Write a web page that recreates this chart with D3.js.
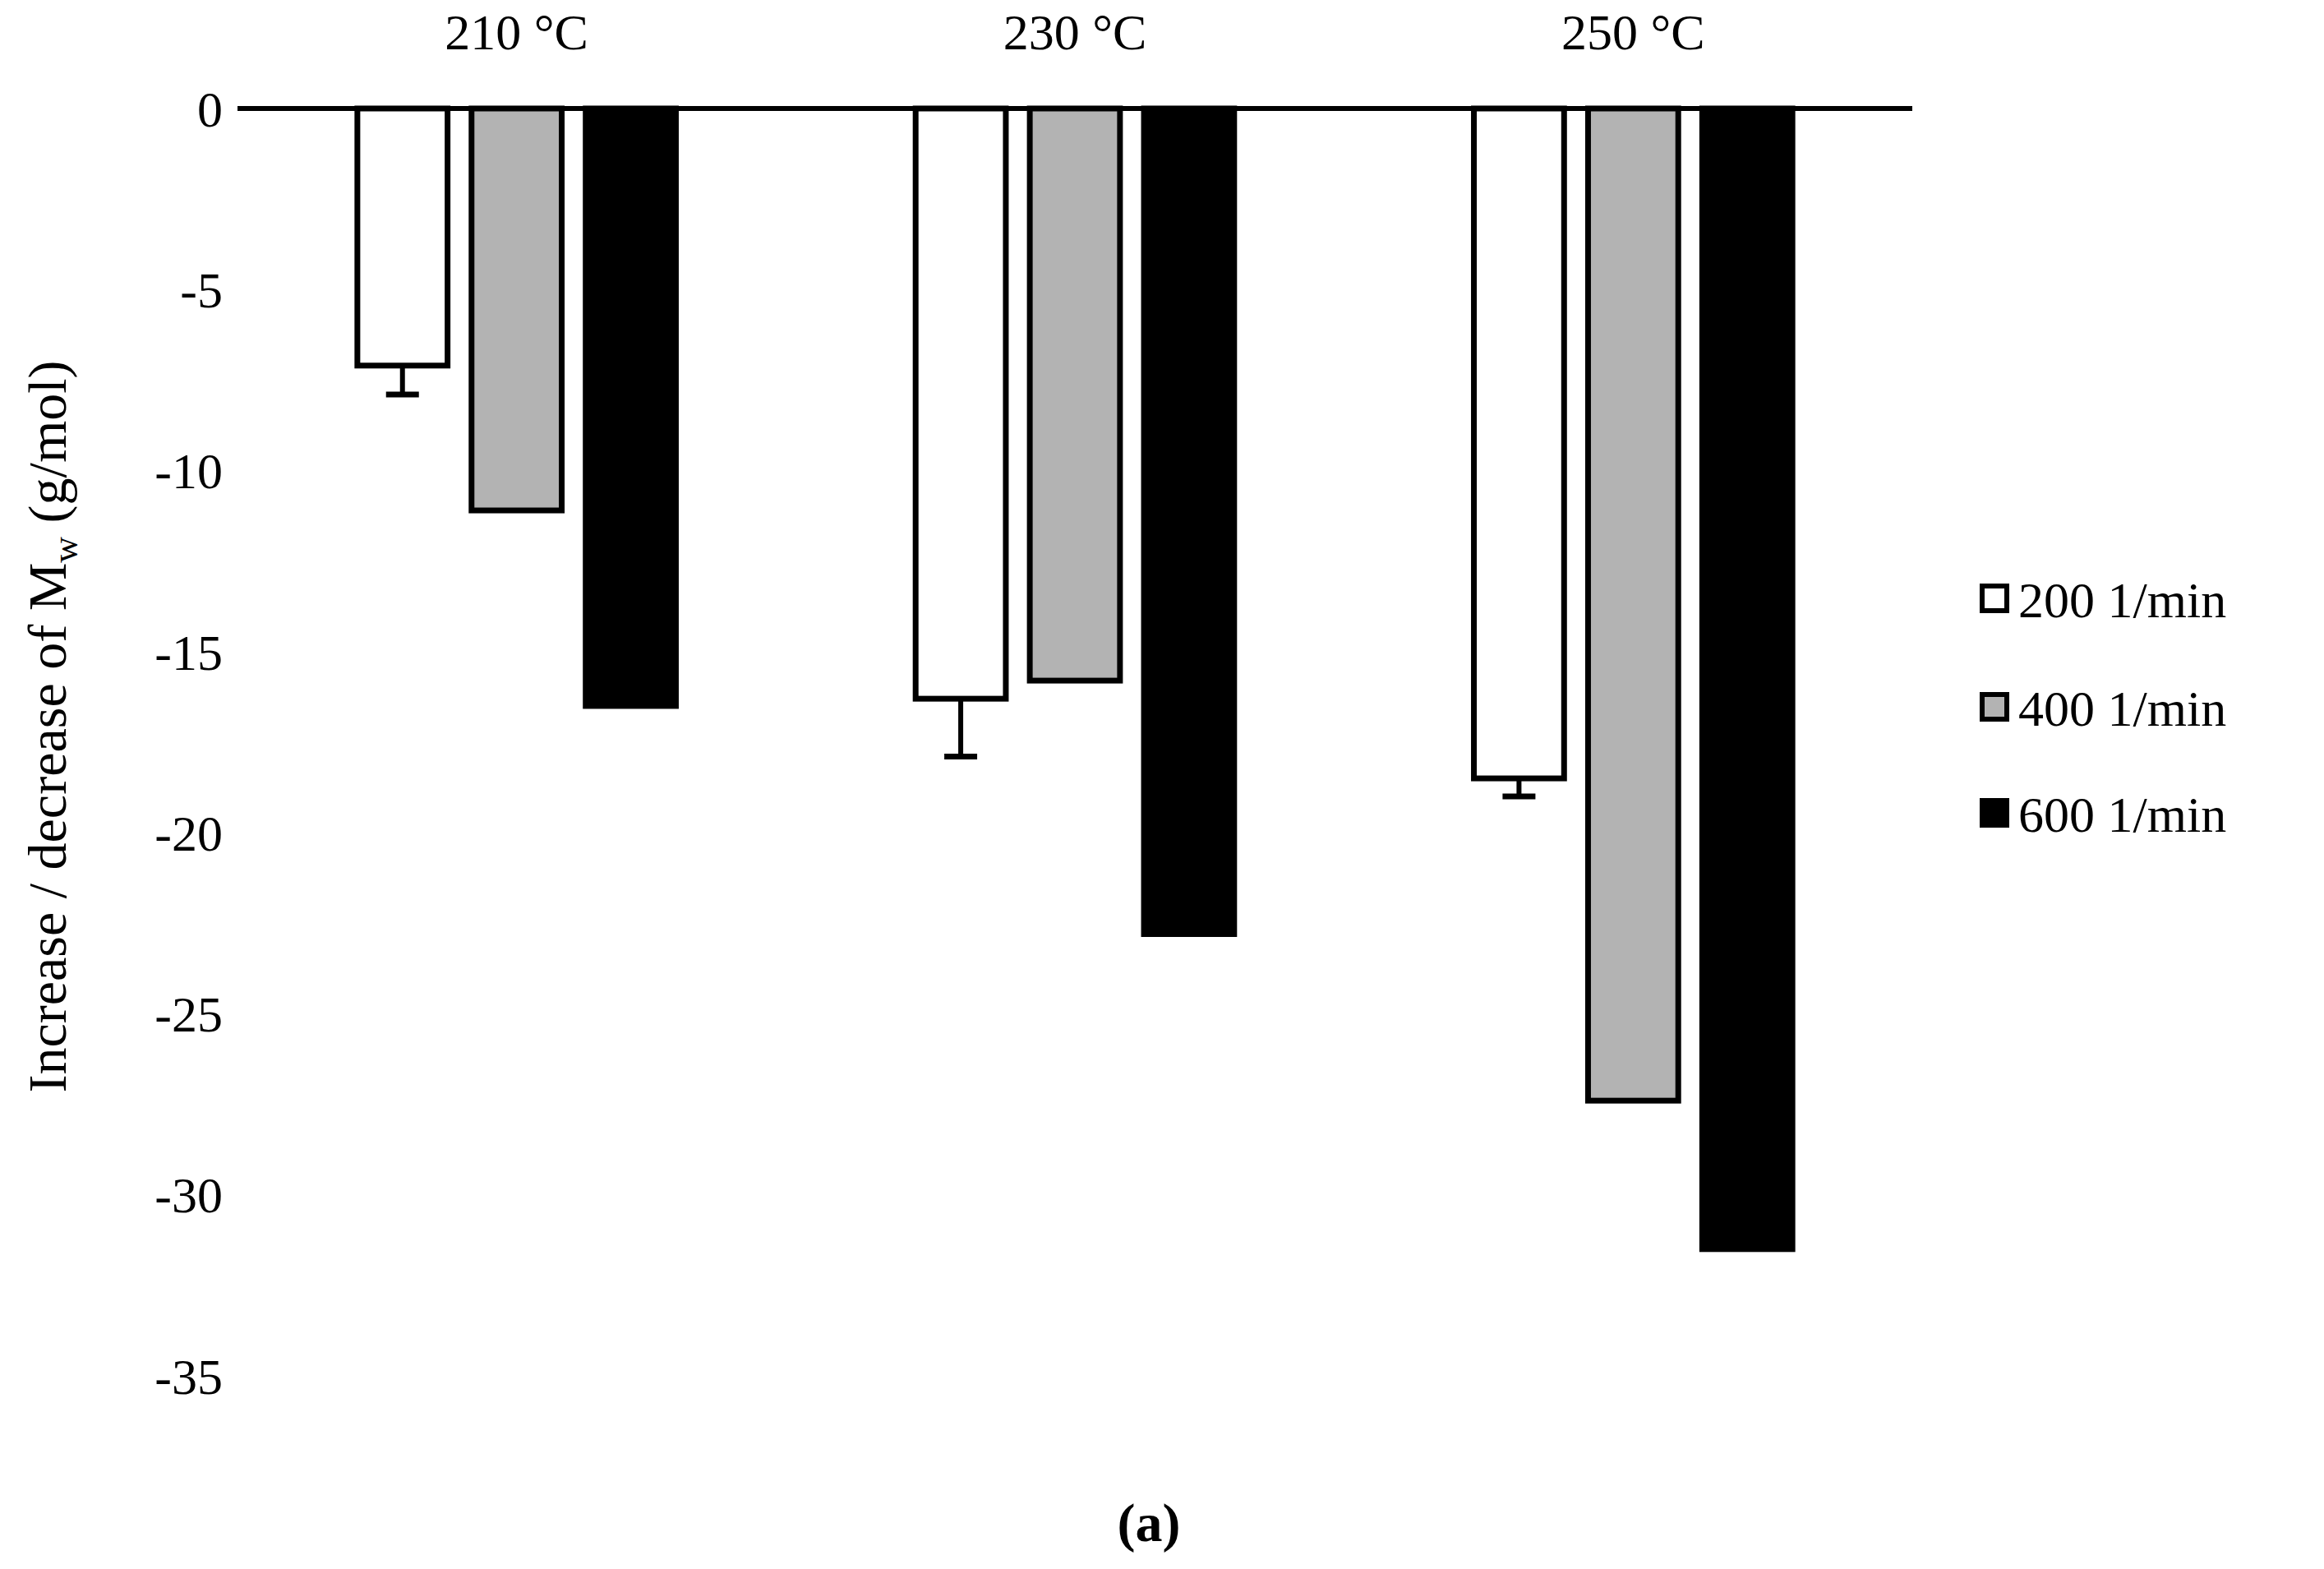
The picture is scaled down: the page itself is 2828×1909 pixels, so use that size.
<!DOCTYPE html>
<html><head><meta charset="utf-8">
<script src="https://cdn.jsdelivr.net/npm/d3@7"></script>
<style>body{margin:0;background:#fff}text{font-family:"Liberation Serif","Times New Roman",serif}</style>
</head><body><svg id="c" width="2828" height="1909"></svg>
<script>
const categories=["210 °C","230 °C","250 °C"];
const seriesNames=["200 1/min","400 1/min","600 1/min"];
const v200=[-7.1,-16.3,-18.5];
const v400=[-11.1,-15.8,-27.4];
const v600=[-16.5,-22.8,-31.5];
const err200=[0.8,1.6,0.5];
const err400=[0,0,0];
const err600=[0,0,0];
const yTicks=[0,-5,-10,-15,-20,-25,-30,-35];
const fills=["#ffffff","#b3b3b3","#000000"];
const vals=[v200,v400,v600], errs=[err200,err400,err600];

const svg=d3.select("#c");
const L=289,R=2327,T=132,B=1674;
const x=d3.scaleBand().domain(categories).range([L,R]);
const x1=d3.scaleBand().domain(seriesNames).range([0,x.bandwidth()]).paddingInner(0.21).paddingOuter(1.05);
const y=d3.scaleLinear().domain([0,-35]).range([T,B]);
const fs=62;
yTicks.forEach(t=>svg.append("text").attr("x",271).attr("y",y(t)).attr("dy","0.35em").attr("text-anchor","end").attr("font-size",fs).text(t));
categories.forEach((c,i)=>{
  svg.append("text").attr("x",x(c)+x.bandwidth()/2).attr("y",60).attr("text-anchor","middle").attr("font-size",fs).text(c);
  seriesNames.forEach((s,j)=>{
    const v=vals[j][i],bx=x(c)+x1(s),bw=x1.bandwidth();
    svg.append("rect").attr("x",bx).attr("y",y(0)).attr("width",bw).attr("height",y(v)-y(0))
      .attr("fill",fills[j]).attr("stroke","#000").attr("stroke-width",7);
    const e=errs[j][i];
    if(e>0){const cx=bx+bw/2;
      svg.append("line").attr("x1",cx).attr("x2",cx).attr("y1",y(v)).attr("y2",y(v-e)).attr("stroke","#000").attr("stroke-width",6);
      svg.append("line").attr("x1",cx-20).attr("x2",cx+20).attr("y1",y(v-e)).attr("y2",y(v-e)).attr("stroke","#000").attr("stroke-width",7);}
  });
});
svg.append("line").attr("x1",L).attr("x2",R).attr("y1",y(0)).attr("y2",y(0)).attr("stroke","#000").attr("stroke-width",6);
const lab=svg.append("text").attr("transform","translate(80,884) rotate(-90)").attr("text-anchor","middle").attr("font-size",66);
lab.append("tspan").text("Increase / decrease of M");
lab.append("tspan").attr("font-size",44).attr("dy",14).text("w");
lab.append("tspan").attr("dy",-14).text(" (g/mol)");
seriesNames.forEach((s,j)=>{
  const yy=[729,861,990][j];
  svg.append("rect").attr("x",2412).attr("y",yy-16).attr("width",30).attr("height",30).attr("fill",fills[j]).attr("stroke","#000").attr("stroke-width",6);
  svg.append("text").attr("x",2456).attr("y",yy).attr("dy","0.35em").attr("font-size",fs).text(s);
});
svg.append("text").attr("x",1398).attr("y",1875).attr("text-anchor","middle").attr("font-size",66).attr("font-weight","bold").text("(a)");
</script></body></html>
